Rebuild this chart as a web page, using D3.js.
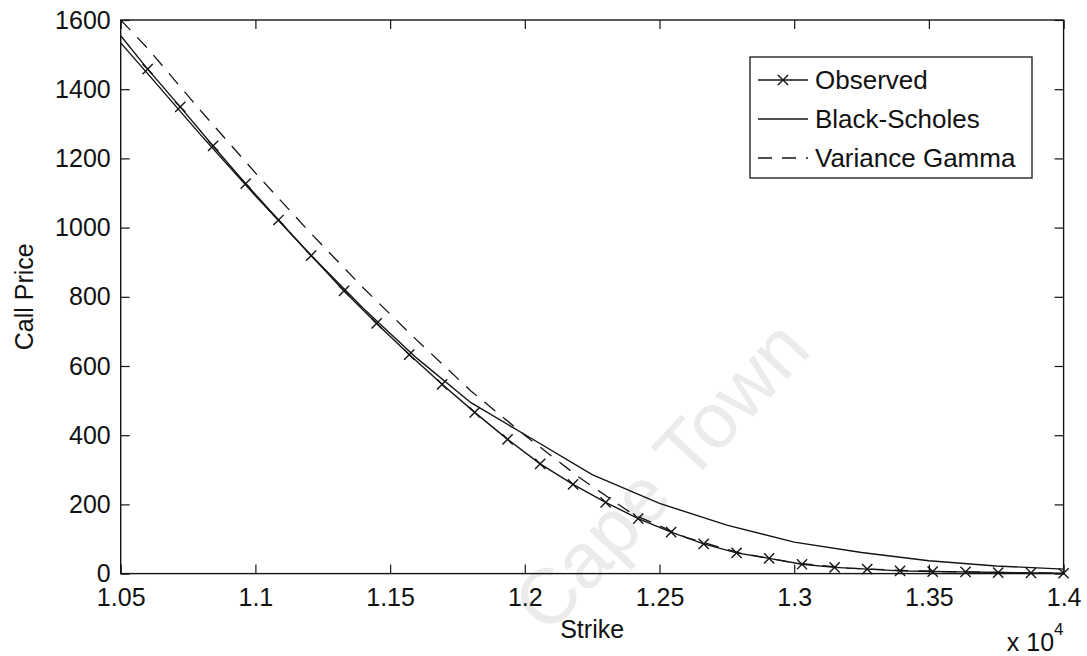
<!DOCTYPE html>
<html>
<head>
<meta charset="utf-8">
<script src="https://cdn.jsdelivr.net/npm/d3@7"></script>
<style>
  body { margin: 0; background: #fff; }
  text { font-family: "Liberation Sans", Arial, sans-serif; fill: #111; }
</style>
</head>
<body>
<svg id="chart"></svg>
<script>
// observed market prices (first point lies just left of the axis and gets clipped)
const obsStrikes = [10479, 10600, 10721, 10843, 10964, 11086, 11207, 11329, 11450, 11571, 11693,
  11814, 11936, 12057, 12179, 12300, 12421, 12543, 12664, 12786, 12907, 13029, 13150, 13271,
  13393, 13514, 13636, 13757, 13879, 14000];
const observed = [1575, 1458, 1349, 1236, 1127, 1022, 919, 817, 723, 633, 547,
  466, 388, 317, 258, 206, 159, 120, 86, 60, 44, 27, 18, 13,
  8, 6, 5, 3, 2, 1];

const bsStrikes = [10500, 10600, 10800, 11000, 11200, 11400, 11600, 11800, 12000, 12250,
  12500, 12750, 13000, 13250, 13500, 13750, 14000];
const blackScholes = [1534, 1445, 1265, 1092, 925, 767, 622, 494, 402, 286,
  203, 140, 91, 61, 37, 22, 13];

const vgStrikes = [10500, 10600, 10800, 11000, 11200, 11400, 11600, 11800, 12000, 12200,
  12400, 12600, 12800, 13000, 13200, 13400, 13600, 13800, 14000];
const varianceGamma = [1600, 1518, 1335, 1158, 988, 826, 674, 528, 400, 279,
  172, 104, 59, 31, 16, 9, 5, 3, 1];

const xTicks = [10500, 11000, 11500, 12000, 12500, 13000, 13500, 14000];
const yTicks = [0, 200, 400, 600, 800, 1000, 1200, 1400, 1600];
const seriesNames = ["Observed", "Black-Scholes", "Variance Gamma"];

const width = 1087, height = 656;
const margin = { top: 20, right: 23.4, bottom: 82.4, left: 120.7 };
const plotW = width - margin.left - margin.right;
const plotH = height - margin.top - margin.bottom;
const ink = "#141414";

const svg = d3.select("#chart").attr("width", width).attr("height", height);

// faint scan watermark
svg.append("text")
  .attr("transform", "translate(548,636) rotate(-47)")
  .style("font-size", "78px")
  .style("fill", "#ebebeb")
  .text("Cape Town");

const x = d3.scaleLinear().domain([10500, 14000]).range([0, plotW]);
const y = d3.scaleLinear().domain([0, 1600]).range([plotH, 0]);

const chart = svg.append("g").attr("transform", `translate(${margin.left},${margin.top})`);

chart.append("clipPath").attr("id", "plotClip")
  .append("rect").attr("width", plotW).attr("height", plotH);

const fmtX = d => d3.format(".3~f")(d / 10000);

// axes with inward ticks on all four sides
chart.append("g").attr("transform", `translate(0,${plotH})`)
  .call(d3.axisBottom(x).tickValues(xTicks).tickFormat(fmtX).tickSizeInner(-9).tickSizeOuter(0).tickPadding(15));
chart.append("g")
  .call(d3.axisTop(x).tickValues(xTicks).tickFormat("").tickSizeInner(-9).tickSizeOuter(0));
chart.append("g")
  .call(d3.axisLeft(y).tickValues(yTicks).tickFormat(d3.format("d")).tickSizeInner(-9).tickSizeOuter(0).tickPadding(10));
chart.append("g").attr("transform", `translate(${plotW},0)`)
  .call(d3.axisRight(y).tickValues(yTicks).tickFormat("").tickSizeInner(-9).tickSizeOuter(0));

chart.selectAll(".domain").remove();
chart.selectAll(".tick line").attr("stroke", ink).attr("stroke-width", 1.2);
chart.selectAll(".tick text").style("font-size", "25px").attr("fill", ink);

const line = d3.line().x(d => x(d[0])).y(d => y(d[1]));
const plot = chart.append("g").attr("clip-path", "url(#plotClip)");

plot.append("path")
  .datum(d3.zip(vgStrikes, varianceGamma))
  .attr("d", line)
  .attr("fill", "none").attr("stroke", ink).attr("stroke-width", 1.3)
  .attr("stroke-dasharray", "14,10");

plot.append("path")
  .datum(d3.zip(bsStrikes, blackScholes))
  .attr("d", line)
  .attr("fill", "none").attr("stroke", ink).attr("stroke-width", 1.4);

plot.append("path")
  .datum(d3.zip(obsStrikes, observed))
  .attr("d", line)
  .attr("fill", "none").attr("stroke", ink).attr("stroke-width", 1.4);

const cross = d3.symbol().type(d3.symbolX).size(70);
chart.selectAll(".obs")
  .data(d3.zip(obsStrikes, observed).filter(d => d[0] >= 10500))
  .enter().append("path")
  .attr("class", "obs")
  .attr("d", cross)
  .attr("transform", d => `translate(${x(d[0])},${y(d[1])})`)
  .attr("fill", "none").attr("stroke", ink).attr("stroke-width", 1.4);

// box
chart.append("rect").attr("width", plotW).attr("height", plotH)
  .attr("fill", "none").attr("stroke", ink).attr("stroke-width", 1.4);

// axis labels
chart.append("text")
  .attr("x", plotW / 2).attr("y", plotH + 64)
  .attr("text-anchor", "middle").style("font-size", "25px")
  .text("Strike");

const mult = chart.append("text")
  .attr("x", plotW).attr("y", plotH + 77)
  .attr("text-anchor", "end").style("font-size", "25px");
mult.append("tspan").text("x 10");
mult.append("tspan").attr("dy", -16).style("font-size", "17px").text("4");

svg.append("text")
  .attr("transform", `translate(33,${margin.top + plotH / 2}) rotate(-90)`)
  .attr("text-anchor", "middle").style("font-size", "25px")
  .text("Call Price");

// legend
const legend = svg.append("g").attr("transform", "translate(750,57)");
legend.append("rect").attr("width", 282).attr("height", 121)
  .attr("fill", "#fff").attr("stroke", ink).attr("stroke-width", 1.3);

const rows = legend.selectAll(".row").data(seriesNames).enter().append("g")
  .attr("class", "row")
  .attr("transform", (d, i) => `translate(0,${23 + i * 39})`);

rows.append("line")
  .attr("x1", 8).attr("x2", 58).attr("y1", 0).attr("y2", 0)
  .attr("stroke", ink).attr("stroke-width", 1.3)
  .attr("stroke-dasharray", (d, i) => i === 2 ? "14,10" : null);

rows.filter((d, i) => i === 0).append("path")
  .attr("d", cross).attr("transform", "translate(33,0)")
  .attr("fill", "none").attr("stroke", ink).attr("stroke-width", 1.4);

rows.append("text")
  .attr("x", 65).attr("dy", "0.35em")
  .style("font-size", "26px")
  .text(d => d);
</script>
</body>
</html>
